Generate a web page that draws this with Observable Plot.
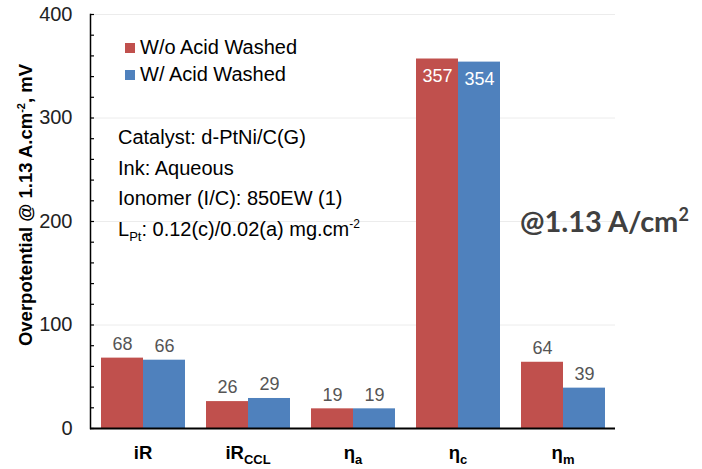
<!DOCTYPE html>
<html>
<head>
<meta charset="utf-8">
<script src="https://cdn.jsdelivr.net/npm/d3@7"></script>
<script src="https://cdn.jsdelivr.net/npm/@observablehq/plot@0.6"></script>
<style>
  body { margin: 0; background: #fff; }
  #wrap { position: relative; width: 702px; height: 469px; font-family: "Liberation Sans", Arial, sans-serif; }
  #wrap svg { position: absolute; left: 0; top: 0; }
  .legend { position: absolute; left: 125px; top: 34px; font-size: 20px; color: #000; white-space: nowrap; }
  .legend .row { display: flex; align-items: center; height: 27px; }
  .legend .sw { width: 10px; height: 10px; margin-right: 5px; }
  .notes { position: absolute; left: 118px; top: 122px; font-size: 20px; line-height: 30.5px; color: #000; white-space: nowrap; }
  .notes .sub { font-size: 13px; position: relative; top: 5px; line-height: 0; }
  .notes .sup { font-size: 12px; position: relative; top: -8px; line-height: 0; }
  .cond { position: absolute; left: 520px; top: 203px; font-family: Lato, "Open Sans", sans-serif; font-weight: bold; font-size: 29px; color: #404040; white-space: nowrap; line-height: 36px; }
  .cond .sup { font-size: 18px; position: relative; top: -11px; line-height: 0; }
</style>
</head>
<body>
<div id="wrap"></div>
<script>
// ---- data ----
const categories = ["iR", "iR_CCL", "η_a", "η_c", "η_m"];
const labelMain = ["iR", "iR", "η", "η", "η"];
const labelSub = ["", "CCL", "a", "c", "m"];
const series = ["W/o Acid Washed", "W/ Acid Washed"];
const colors = ["#C0504D", "#4F81BD"];
const woAcid = [68, 26, 19, 357, 64];
const wAcid = [66, 29, 19, 354, 39];
const yTicks = [0, 100, 200, 300, 400];
const yMinorTicks = [0, 20, 40, 60, 80, 100, 120, 140, 160, 180, 200, 220, 240, 260, 280, 300, 320, 340, 360, 380, 400];
const yGridLines = [100, 200, 300, 400];
const yTitle = ["Overpotential @ 1.13 A.cm", "-2", ", mV"];
const notes = [
  [["Catalyst: d-PtNi/C(G)", ""]],
  [["Ink: Aqueous", ""]],
  [["Ionomer (I/C): 850EW (1)", ""]],
  [["L", ""], ["Pt", "sub"], [": 0.12(c)/0.02(a) mg.cm", ""], ["-2", "sup"]]
];
const condition = [["@1.13 A/cm", ""], ["2", "sup"]];

const data = categories.flatMap((c, i) => [
  {cat: c, series: series[0], value: woAcid[i]},
  {cat: c, series: series[1], value: wAcid[i]}
]);

const chart = Plot.plot({
  width: 702,
  height: 469,
  marginLeft: 88,
  marginRight: 85,
  marginTop: 14,
  marginBottom: 41,
  style: {fontFamily: "'Liberation Sans', Arial, sans-serif", background: "transparent", color: "#000"},
  fx: {domain: categories, padding: 0, axis: null},
  x: {domain: series, paddingInner: 0, paddingOuter: 0.25, axis: null},
  y: {domain: [0, 400], axis: null},
  color: {domain: series, range: colors},
  marks: [
    Plot.gridY(yGridLines, {stroke: "#ececec", strokeOpacity: 1, strokeWidth: 1}),
    Plot.barY(data, {fx: "cat", x: "series", y: "value", fill: "series"}),
    Plot.ruleY([0], {stroke: "#000", strokeWidth: 2}),
    Plot.frame({anchor: "left", facetAnchor: "left", stroke: "#000", strokeWidth: 1.5}),
    Plot.axisY(yMinorTicks, {tickSize: 4, dx: 4, tickFormat: () => "", label: null, stroke: "#000", strokeWidth: 1.2}),
    Plot.axisY(yTicks, {tickSize: 0, tickPadding: 18, fontSize: 20, fill: "#222", label: null}),
    Plot.axisFx({anchor: "bottom", tickSize: 0, tickPadding: 17, fontSize: 18.5, fontWeight: "bold", fill: "#000",
      tickFormat: d => labelMain[categories.indexOf(d)], label: null}),
    Plot.text(data, {filter: d => d.value < 300, fx: "cat", x: "series", y: "value", text: d => String(d.value),
      dy: -14, fontSize: 18, fill: "#555"}),
    Plot.text(data, {filter: d => d.value >= 300, fx: "cat", x: "series", y: "value", text: d => String(d.value),
      dy: 17, fontSize: 18, fill: "#fff"}),
    Plot.text([yTitle.join("")], {frameAnchor: "left", facetAnchor: "left", textAnchor: "middle", rotate: -90, dx: -64, dy: -16.5,
      fontSize: 18.5, fontWeight: "bold", fill: "#000"})
  ]
});

const wrap = document.getElementById("wrap");
wrap.appendChild(chart);

// x tick labels with subscripts
d3.select(chart).selectAll('g[aria-label="fx-axis tick label"] text').each(function(_, i) {
  const sub = labelSub[i];
  if (sub) d3.select(this).append("tspan").attr("font-size", 13).attr("dy", 5).text(sub);
});

// y title with superscript
d3.select(chart).selectAll("text").filter(function() { return this.textContent === yTitle.join(""); }).each(function() {
  const yt = d3.select(this);
  yt.text("");
  yt.append("tspan").text(yTitle[0]);
  yt.append("tspan").attr("font-size", 11).attr("dy", -7).text(yTitle[1]);
  yt.append("tspan").attr("dy", 7).text(yTitle[2]);
});

// legend
const legend = d3.select(wrap).append("div").attr("class", "legend");
series.forEach((s, i) => {
  const row = legend.append("div").attr("class", "row");
  row.append("div").attr("class", "sw").style("background", colors[i]);
  row.append("span").text(s);
});

// notes
const notesDiv = d3.select(wrap).append("div").attr("class", "notes");
notes.forEach(line => {
  const l = notesDiv.append("div");
  line.forEach(([t, cls]) => l.append("span").attr("class", cls).text(t));
});

// condition label
const cond = d3.select(wrap).append("div").attr("class", "cond");
condition.forEach(([t, cls]) => cond.append("span").attr("class", cls).text(t));
</script>
</body>
</html>
